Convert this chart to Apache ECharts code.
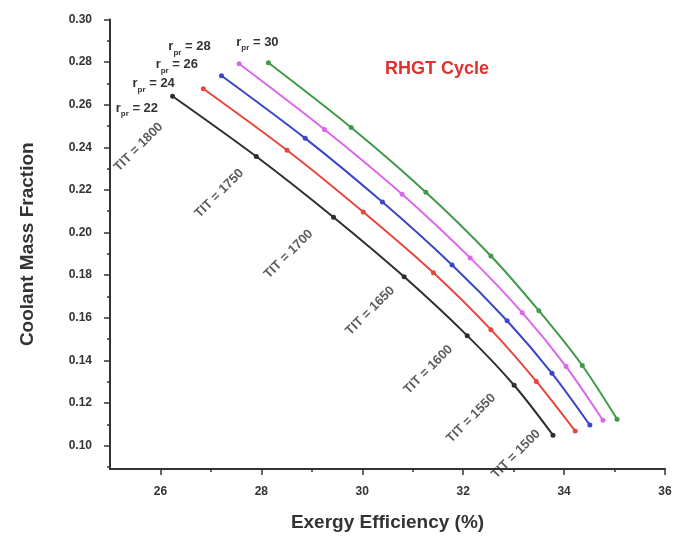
<!DOCTYPE html>
<html>
<head>
<meta charset="utf-8">
<script src="https://cdn.jsdelivr.net/npm/echarts@6/dist/echarts.min.js"></script>
<style>
html,body{margin:0;padding:0;background:#fff;}
#chart{width:684px;height:537px;}
</style>
</head>
<body>
<div id="chart"></div>
<script>
// ---- data ----
const xTicks = [26, 28, 30, 32, 34, 36];
const xMinorTicks = [27, 29, 31, 33, 35];
const yTicks = [0.10, 0.12, 0.14, 0.16, 0.18, 0.20, 0.22, 0.24, 0.26, 0.28, 0.30];
const yMinorTicks = [0.09, 0.11, 0.13, 0.15, 0.17, 0.19, 0.21, 0.23, 0.25, 0.27, 0.29];

const pressureRatios = ['22', '24', '26', '28', '30'];
const titValues = ['1800', '1750', '1700', '1650', '1600', '1550', '1500'];

const eff22 = [26.24, 27.90, 29.43, 30.83, 32.08, 33.01, 33.78];
const cmf22 = [0.264, 0.2357, 0.2072, 0.1792, 0.1516, 0.1283, 0.1049];
const eff24 = [26.85, 28.51, 30.02, 31.41, 32.55, 33.45, 34.22];
const cmf24 = [0.2675, 0.2386, 0.2096, 0.1811, 0.1544, 0.1301, 0.1068];
const eff26 = [27.21, 28.87, 30.40, 31.78, 32.87, 33.76, 34.51];
const cmf26 = [0.2736, 0.2442, 0.2143, 0.1848, 0.1586, 0.1339, 0.1096];
const eff28 = [27.56, 29.25, 30.79, 32.14, 33.17, 34.04, 34.77];
const cmf28 = [0.2792, 0.2484, 0.2180, 0.1881, 0.1624, 0.1371, 0.1119];
const eff30 = [28.14, 29.78, 31.26, 32.55, 33.50, 34.36, 35.05];
const cmf30 = [0.2797, 0.2493, 0.2189, 0.1890, 0.1633, 0.1376, 0.1124];

// ---- layout / style ----
const FONT = '"Liberation Sans", Arial, sans-serif';
const TXT = '#333333';
const colors = ['#2e2e2e', '#e8463c', '#3a46c8', '#dc66ec', '#3f9a48'];
const effs = [eff22, eff24, eff26, eff28, eff30];
const cmfs = [cmf22, cmf24, cmf26, cmf28, cmf30];
const rLabelLayout = [
  {position: 'left', offset: [-7, 12]},
  {position: 'left', offset: [-21, -5]},
  {position: 'left', offset: [-16, -11]},
  {position: 'left', offset: [-21, -17]},
  {position: 'top', offset: [-11, -3]}
];
// desired on-screen displacement of each TIT label centre from its point
const titShift = [[-34, 51], [-37, 37], [-45, 37], [-34, 34], [-39, 34], [-43, 33], [-37, 19]];
const ROT = 45;
function unrotate(d) {
  const t = ROT * Math.PI / 180, c = Math.cos(t), s = Math.sin(t);
  return [d[0] * c - d[1] * s, d[0] * s + d[1] * c];
}

const rich = {
  a: {fontSize: 13, fontWeight: 'bold', color: TXT, fontFamily: FONT, lineHeight: 20, verticalAlign: 'middle'},
  b: {fontSize: 8, fontWeight: 'bold', color: TXT, fontFamily: FONT, lineHeight: 20, verticalAlign: 'bottom'}
};

const series = effs.map((ex, i) => ({
  type: 'line',
  smooth: 0.3,
  symbol: 'circle',
  symbolSize: 5,
  xAxisIndex: 0, yAxisIndex: 0,
  lineStyle: {width: 2, color: colors[i]},
  itemStyle: {color: colors[i]},
  z: 3,
  data: ex.map((x, j) => {
    const item = {value: [x, cmfs[i][j]]};
    if (j === 0) {
      item.label = {
        show: true,
        position: rLabelLayout[i].position,
        offset: rLabelLayout[i].offset,
        formatter: '{a|r}{b|pr}{a| = ' + pressureRatios[i] + '}',
        rich: rich
      };
    }
    return item;
  })
}));

series.push({
  type: 'scatter',
  symbolSize: 0,
  silent: true,
  z: 4,
  data: eff22.map((x, j) => ({
    value: [x, cmf22[j]],
    label: {
      show: true,
      position: 'inside',
      offset: unrotate(titShift[j]),
      rotate: ROT,
      formatter: 'TIT = ' + titValues[j],
      fontSize: 13, fontWeight: 'bold', color: TXT, fontFamily: FONT
    }
  }))
});

const grid = {left: 110, right: 19, top: 19.5, bottom: 66};
const axisLine = {show: true, lineStyle: {color: '#333', width: 2}};

const option = {
  animation: false,
  backgroundColor: '#fff',
  grid: grid,
  xAxis: [{
    type: 'value', min: 25, max: 36,
    axisLine: axisLine,
    splitLine: {show: false},
    axisTick: {show: true, customValues: xTicks, length: 6, inside: false, lineStyle: {color: '#333', width: 1.5}},
    axisLabel: {customValues: xTicks, margin: 17, fontSize: 12, fontWeight: 'bold', color: TXT, fontFamily: FONT},
    name: 'Exergy Efficiency (%)', nameLocation: 'middle', nameGap: 44,
    nameTextStyle: {fontSize: 19, fontWeight: 'bold', color: TXT, fontFamily: FONT}
  }, {
    type: 'value', min: 25, max: 36, position: 'bottom',
    axisLine: {show: false}, splitLine: {show: false}, axisLabel: {show: false},
    axisTick: {show: true, customValues: xMinorTicks, length: 3, lineStyle: {color: '#333', width: 1.5}}
  }],
  yAxis: [{
    type: 'value', min: 0.089, max: 0.30,
    axisLine: axisLine,
    splitLine: {show: false},
    axisTick: {show: true, customValues: yTicks, length: 6, lineStyle: {color: '#333', width: 1.5}},
    axisLabel: {customValues: yTicks, margin: 18, fontSize: 12, fontWeight: 'bold', color: TXT, fontFamily: FONT,
      formatter: v => v.toFixed(2)},
    name: 'Coolant Mass Fraction', nameLocation: 'middle', nameGap: 73, nameRotate: 90,
    nameTextStyle: {fontSize: 19, fontWeight: 'bold', color: TXT, fontFamily: FONT}
  }, {
    type: 'value', min: 0.089, max: 0.30, position: 'left',
    axisLine: {show: false}, splitLine: {show: false}, axisLabel: {show: false},
    axisTick: {show: true, customValues: yMinorTicks, length: 3, lineStyle: {color: '#333', width: 1.5}}
  }],
  graphic: [{
    type: 'text', left: 385, top: 60,
    style: {text: 'RHGT Cycle', fill: '#e0302c', font: 'bold 18px ' + FONT}
  }],
  series: series
};

const chart = echarts.init(document.getElementById('chart'), null, {renderer: 'canvas'});
chart.setOption(option);
</script>
</body>
</html>
